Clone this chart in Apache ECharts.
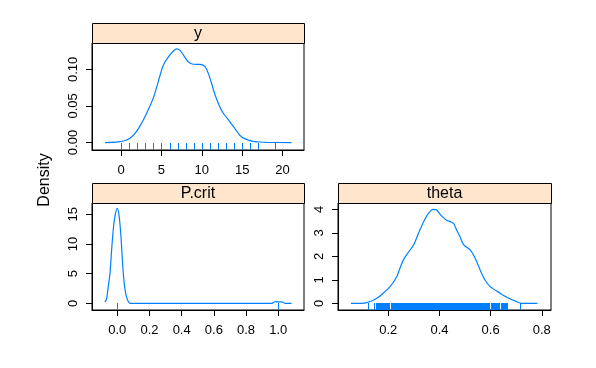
<!DOCTYPE html>
<html>
<head>
<meta charset="utf-8">
<script src="https://cdn.jsdelivr.net/npm/echarts@6/dist/echarts.min.js"></script>
<style>
html,body{margin:0;padding:0;background:#fff;}
#c{width:596px;height:368px;}
</style>
</head>
<body>
<div id="c"></div>
<script>
// ---- Panel titles
const panelNames = ['y', 'P.crit', 'theta'];

// ---- Panel "y": density curve
const yDensX = [-1.98, -0.33, 0.7, 1.53, 2.15, 2.77, 3.38, 4.0, 4.42, 4.83, 5.24, 5.86, 6.48, 6.89, 7.3, 7.72, 8.33, 8.95, 9.78, 10.4, 10.8, 11.2, 11.64, 12.26, 12.67, 13.5, 14.1, 14.7, 15.36, 16.2, 17.2, 18.0, 21.1];
const yDensY = [0, 0.001, 0.0034, 0.010, 0.019, 0.031, 0.045, 0.061, 0.076, 0.092, 0.106, 0.117, 0.125, 0.128, 0.126, 0.1195, 0.110, 0.107, 0.1068, 0.1036, 0.0945, 0.081, 0.065, 0.048, 0.040, 0.028, 0.019, 0.010, 0.005, 0.002, 0.0007, 0.0002, 0];
const yRug = [0, 1, 2, 3, 4, 5, 6, 7, 8, 9, 10, 11, 12, 13, 14, 15, 16, 17, 19];
const yXTicks = [0, 5, 10, 15, 20];
const yYTicks = [0, 0.05, 0.10];

// ---- Panel "P.crit"
const pDensX = [-0.077, -0.066, -0.056, -0.045, -0.035, -0.025, -0.015, 0, 0.012, 0.023, 0.033, 0.043, 0.054, 0.068, 0.079, 0.96, 0.968, 0.978, 1.022, 1.032, 1.045, 1.083];
const pDensY = [0.2, 0.8, 2.8, 5.06, 9.0, 12.4, 14.6, 16.0, 14.6, 11.2, 6.7, 3.4, 1.4, 0.3, 0, 0, 0.1, 0.25, 0.25, 0.1, 0, 0];
const pRug = [0, 1];
const pXTicks = [0, 0.2, 0.4, 0.6, 0.8, 1.0];
const pYTicks = [0, 5, 10, 15];

// ---- Panel "theta"
const tDensX = [0.054, 0.10, 0.115, 0.135, 0.155, 0.18, 0.207, 0.233, 0.246, 0.259, 0.285, 0.30, 0.318, 0.338, 0.357, 0.376, 0.389, 0.409, 0.428, 0.455, 0.467, 0.48, 0.494, 0.52, 0.54, 0.559, 0.578, 0.598, 0.637, 0.663, 0.702, 0.721, 0.783];
const tDensY = [0, 0, 0.03, 0.1, 0.21, 0.43, 0.71, 1.13, 1.5, 1.85, 2.27, 2.5, 2.98, 3.47, 3.83, 4.0, 3.97, 3.71, 3.54, 3.40, 3.12, 2.84, 2.5, 2.27, 1.91, 1.42, 0.99, 0.71, 0.43, 0.26, 0.07, 0.0, 0];
const tRugLo = [0.121, 0.144, 0.152, 0.165, 0.209, 0.600, 0.640, 0.665, 0.715];
const tRugHi = [0.121, 0.148, 0.161, 0.204, 0.595, 0.634, 0.662, 0.669, 0.715];
const tXTicks = [0.2, 0.4, 0.6, 0.8];
const tYTicks = [0, 1, 2, 3, 4];

const BLUE = '#0080ff';
const FONT = 'Liberation Sans, Arial, sans-serif';

// panel layout (pixels)
const panels = [
  {left: 92, top: 43, width: 212, height: 107, xmin: -3.6, xmax: 22.65, ymin: -0.0102, ymax: 0.136,
   xt: yXTicks, yt: yYTicks, xd: 0, yd: 2},
  {left: 92, top: 203, width: 212, height: 107, xmin: -0.157, xmax: 1.16, ymin: -1.13, ymax: 16.9,
   xt: pXTicks, yt: pYTicks, xd: 1, yd: 0},
  {left: 338, top: 203, width: 213, height: 107, xmin: 0.0033, xmax: 0.836, ymin: -0.285, ymax: 4.27,
   xt: tXTicks, yt: tYTicks, xd: 1, yd: 0}
];
const STRIP_H = 20;

const zip = (a, b) => a.map((v, i) => [v, b[i]]);
const densData = [zip(yDensX, yDensY), zip(pDensX, pDensY), zip(tDensX, tDensY)];
const rugData = [yRug.map(v => [v, v]), pRug.map(v => [v, v]), zip(tRugLo, tRugHi)];

const grids = [], xAxes = [], yAxes = [], series = [], graphics = [];
panels.forEach((p, i) => {
  grids.push({left: p.left, top: p.top, width: p.width, height: p.height,
    show: true, borderColor: '#000', borderWidth: 1, backgroundColor: 'transparent', containLabel: false});
  xAxes.push({type: 'value', gridIndex: i, min: p.xmin, max: p.xmax,
    axisLine: {show: true, onZero: false, lineStyle: {color: '#000', width: 1}},
    axisTick: {show: true, length: 6, lineStyle: {color: '#000'}, customValues: p.xt},
    axisLabel: {customValues: p.xt, formatter: v => v.toFixed(p.xd), color: '#000', fontSize: 13, fontFamily: FONT, margin: 14},
    splitLine: {show: false}});
  yAxes.push({type: 'value', gridIndex: i, min: p.ymin, max: p.ymax,
    axisLine: {show: true, onZero: false, lineStyle: {color: '#000', width: 1}},
    axisTick: {show: true, length: 6, lineStyle: {color: '#000'}, customValues: p.yt},
    axisLabel: {customValues: p.yt, formatter: v => v.toFixed(p.yd), color: '#000', fontSize: 13, fontFamily: FONT, margin: 12, rotate: 90},
    splitLine: {show: false}});
  series.push({type: 'line', xAxisIndex: i, yAxisIndex: i, data: densData[i], showSymbol: false,
    smooth: 0.25, lineStyle: {color: BLUE, width: 1.2}, silent: true, z: 3});
  series.push({type: 'custom', xAxisIndex: i, yAxisIndex: i, data: rugData[i], silent: true, z: 2,
    itemStyle: {color: BLUE},
    encode: {x: [0, 1]},
    renderItem: (params, api) => {
      const p0 = api.coord([api.value(0), 0]);
      const p1 = api.coord([api.value(1), 0]);
      const cs = params.coordSys;
      const bottom = cs.y + cs.height;
      const x0 = Math.round(p0[0]);
      const x1 = Math.round(p1[0]);
      const y0 = Math.round(p0[1]);
      if (x1 - x0 < 2) {
        return {type: 'line', shape: {x1: x0 + 0.5, y1: y0, x2: x0 + 0.5, y2: bottom},
          style: {stroke: BLUE, lineWidth: 1}};
      }
      return {type: 'rect', shape: {x: x0, y: y0, width: x1 - x0 + 1, height: bottom - y0},
        style: {fill: BLUE}};
    }});
  graphics.push({type: 'rect', shape: {x: p.left + 0.5, y: p.top - STRIP_H + 0.5, width: p.width, height: STRIP_H},
    style: {fill: '#ffe5cc', stroke: '#000', lineWidth: 1}, z: 10});
  graphics.push({type: 'text', x: p.left + p.width / 2, y: p.top - STRIP_H / 2 + 1,
    style: {text: panelNames[i], font: '16px ' + FONT, fill: '#000', textAlign: 'center', textVerticalAlign: 'middle'}, z: 11});
});
graphics.push({type: 'text', x: 45, y: 180, rotation: Math.PI / 2,
  style: {text: 'Density', font: '16px ' + FONT, fill: '#000', textAlign: 'center', textVerticalAlign: 'middle'}});

const chart = echarts.init(document.getElementById('c'), null, {renderer: 'canvas'});
chart.setOption({
  animation: false,
  backgroundColor: '#fff',
  grid: grids, xAxis: xAxes, yAxis: yAxes, series: series, graphic: graphics
});
</script>
</body>
</html>
